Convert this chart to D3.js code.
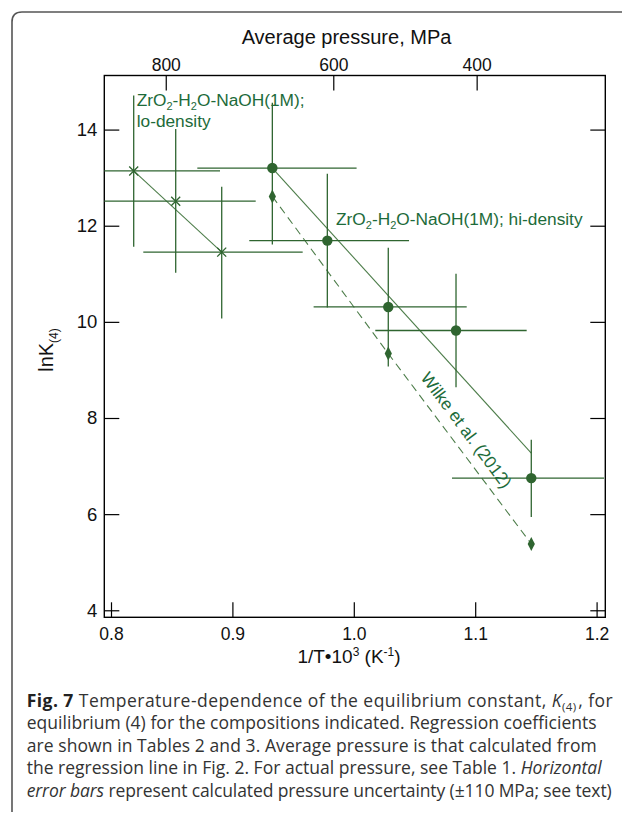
<!DOCTYPE html>
<html>
<head>
<meta charset="utf-8">
<script src="https://cdn.jsdelivr.net/npm/d3@7"></script>
<style>
  html, body { margin: 0; padding: 0; background: #fff; }
  svg { display: block; }
</style>
</head>
<body>
<svg id="chart" width="622" height="819"></svg>
<script>
// ---------------- data ----------------
const xTicks = [0.8, 0.9, 1.0, 1.1, 1.2];
const yTicks = [4, 6, 8, 10, 12, 14];
const topTickPos = [0.8451, 0.9831, 1.1012];
const topTickLabels = ["800", "600", "400"];

// lo-density (crosses)
const loX    = [0.8187, 0.8533, 0.8912];
const loY    = [13.14, 12.51, 11.45];
const loYLo  = [11.56, 11.02, 10.07];
const loYHi  = [14.71, 14.01, 12.81];
const loXLo  = [0.748, 0.787, 0.8266];
const loXHi  = [0.8898, 0.9192, 0.9579];
const loLineX = [0.8187, 0.8912];
const loLineY = [13.14, 11.45];

// hi-density (filled circles)
const hiX    = [0.9329, 0.9782, 1.0284, 1.0842, 1.1462];
const hiY    = [13.20, 11.69, 10.31, 9.82, 6.75];
const hiYLo  = [11.61, 10.30, 9.07, 8.64, 5.94];
const hiYHi  = [14.56, 13.08, 11.54, 11.00, 7.55];
const hiXLo  = [0.8711, 0.9139, 0.9669, 1.0177, 1.0809];
const hiXHi  = [1.0023, 1.0455, 1.0930, 1.1424, 1.2061];
const hiLineX = [0.9329, 1.1462];
const hiLineY = [13.20, 7.27];

// Wilke et al. (2012) (diamonds, dashed)
const wilkeX = [0.9329, 1.0284, 1.1462];
const wilkeY = [12.61, 9.34, 5.38];

// ---------------- drawing ----------------
const svg = d3.select("#chart");
const green = "#2f6530";
const lineGreen = "#4d7d4a";
const textGreen = "#1d6b3a";
const chartFont = "'Liberation Sans', Arial, Helvetica, sans-serif";

// outer figure border (top + left, rounded corner)
svg.append("path")
  .attr("d", "M12,812 L12,22 Q12,12 22,12 L622,12")
  .attr("fill", "none").attr("stroke", "#555").attr("stroke-width", 1.6);

const x = d3.scaleLinear().domain([0.79448, 1.20717]).range([104.3, 605.3]);
const y = d3.scaleLinear().domain([3.854, 15.125]).range([617.3, 75.5]);
const L = x.range()[0], R = x.range()[1], T = y.range()[1], B = y.range()[0];

svg.append("defs").append("clipPath").attr("id", "plotclip")
  .append("rect").attr("x", L).attr("y", T).attr("width", R - L).attr("height", B - T);

function styleAxis(g, fs) {
  g.select(".domain").remove();
  g.selectAll(".tick line").attr("stroke", "#000").attr("stroke-width", 1.2);
  g.selectAll(".tick text").attr("fill", "#111").style("font-family", chartFont).style("font-size", fs + "px");
}

// bottom axis
svg.append("g").attr("transform", `translate(0,${B})`)
  .call(d3.axisBottom(x).tickValues(xTicks).tickFormat(d3.format(".1f"))
        .tickSizeInner(-15).tickSizeOuter(0).tickPadding(10))
  .call(g => styleAxis(g, 17.5));

// left axis
svg.append("g").attr("transform", `translate(${L},0)`)
  .call(d3.axisLeft(y).tickValues(yTicks).tickFormat(d3.format("d"))
        .tickSizeInner(-15).tickSizeOuter(0).tickPadding(7))
  .call(g => styleAxis(g, 18.5));

// right axis (ticks only)
svg.append("g").attr("transform", `translate(${R},0)`)
  .call(d3.axisRight(y).tickValues(yTicks).tickFormat("")
        .tickSizeInner(-15).tickSizeOuter(0))
  .call(g => styleAxis(g, 17));

// top axis (average pressure)
svg.append("g").attr("transform", `translate(0,${T})`)
  .call(d3.axisTop(x).tickValues(topTickPos).tickFormat((d, i) => topTickLabels[i])
        .tickSizeInner(-15).tickSizeOuter(0).tickPadding(4.5))
  .call(g => styleAxis(g, 17.5));

// frame
svg.append("rect").attr("x", L).attr("y", T).attr("width", R - L).attr("height", B - T)
  .attr("fill", "none").attr("stroke", "#000").attr("stroke-width", 1.4);

// axis titles
svg.append("text").attr("x", 346.5).attr("y", 43.5).attr("text-anchor", "middle")
  .style("font-family", chartFont).style("font-size", "20px").attr("fill", "#111")
  .text("Average pressure, MPa");

const xl = svg.append("text").attr("x", 349).attr("y", 663).attr("text-anchor", "middle")
  .style("font-family", chartFont).style("font-size", "19px").attr("fill", "#111");
xl.append("tspan").text("1/T\u202210");
xl.append("tspan").attr("dy", -7).style("font-size", "12px").text("3");
xl.append("tspan").attr("dy", 7).text(" (K");
xl.append("tspan").attr("dy", -7).style("font-size", "12px").text("-1");
xl.append("tspan").attr("dy", 7).text(")");

const yl = svg.append("text").attr("transform", "translate(53,350) rotate(-90)")
  .attr("text-anchor", "middle")
  .style("font-family", chartFont).style("font-size", "20px").attr("fill", "#111");
yl.append("tspan").text("lnK");
yl.append("tspan").attr("dy", 5).style("font-size", "12px").text("(4)");

// data layer
const plot = svg.append("g").attr("clip-path", "url(#plotclip)");

// regression lines
const lineGen = d3.line().x(d => x(d[0])).y(d => y(d[1]));
plot.append("path").datum(d3.zip(loLineX, loLineY)).attr("d", lineGen)
  .attr("fill", "none").attr("stroke", lineGreen).attr("stroke-width", 1.1);
plot.append("path").datum(d3.zip(hiLineX, hiLineY)).attr("d", lineGen)
  .attr("fill", "none").attr("stroke", lineGreen).attr("stroke-width", 1.1);
plot.append("path").datum(d3.zip(wilkeX, wilkeY)).attr("d", lineGen)
  .attr("fill", "none").attr("stroke", lineGreen).attr("stroke-width", 1.1)
  .attr("stroke-dasharray", "8,5");

// error bars
function errorBars(xs, ys, xlo, xhi, ylo, yhi) {
  const g = plot.append("g").attr("stroke", green).attr("stroke-width", 1.3);
  xs.forEach((xv, i) => {
    g.append("line").attr("x1", x(xlo[i])).attr("x2", x(xhi[i])).attr("y1", y(ys[i])).attr("y2", y(ys[i]));
    g.append("line").attr("x1", x(xv)).attr("x2", x(xv)).attr("y1", y(ylo[i])).attr("y2", y(yhi[i]));
  });
}
errorBars(loX, loY, loXLo, loXHi, loYLo, loYHi);
errorBars(hiX, hiY, hiXLo, hiXHi, hiYLo, hiYHi);

// markers
plot.append("g").selectAll("path").data(d3.zip(loX, loY)).join("path")
  .attr("transform", d => `translate(${x(d[0])},${y(d[1])})`)
  .attr("d", "M-4.5,-4.5L4.5,4.5M-4.5,4.5L4.5,-4.5")
  .attr("stroke", green).attr("stroke-width", 1.3).attr("fill", "none");

plot.append("g").selectAll("circle").data(d3.zip(hiX, hiY)).join("circle")
  .attr("cx", d => x(d[0])).attr("cy", d => y(d[1])).attr("r", 5.2)
  .attr("fill", green);

plot.append("g").selectAll("path").data(d3.zip(wilkeX, wilkeY)).join("path")
  .attr("transform", d => `translate(${x(d[0])},${y(d[1])})`)
  .attr("d", "M0,-7L3.6,0L0,7L-3.6,0Z")
  .attr("fill", green);

// labels
function chemLabel(xp, yp, parts) {
  const t = svg.append("text").attr("x", xp).attr("y", yp)
    .style("font-family", chartFont).style("font-size", "17.3px").attr("fill", textGreen);
  parts.forEach(p => {
    if (p.sub) t.append("tspan").attr("dy", 4).style("font-size", "11px").text(p.t);
    else t.append("tspan").attr("dy", p.after ? -4 : 0).text(p.t);
  });
  return t;
}
const chemParts = (suffix) => [
  { t: "ZrO" }, { t: "2", sub: true }, { t: "-H", after: true }, { t: "2", sub: true },
  { t: "O-NaOH(1M);" + suffix, after: true }
];
chemLabel(136.7, 106, chemParts(""));
svg.append("text").attr("x", 136.7).attr("y", 126.5)
  .style("font-family", chartFont).style("font-size", "17.3px").attr("fill", textGreen)
  .text("lo-density");
chemLabel(336, 225, chemParts(" hi-density"));

// Wilke label along the dashed line
{
  const x0 = x(wilkeX[0]), y0 = y(wilkeY[0]);
  const x1 = x(wilkeX[2]), y1 = y(wilkeY[2]);
  const ang = Math.atan2(y1 - y0, x1 - x0);
  const t = 0.70;
  const px = x0 + (x1 - x0) * t, py = y0 + (y1 - y0) * t;
  const nx = Math.sin(ang), ny = -Math.cos(ang);
  const off = 10;
  svg.append("text")
    .attr("transform", `translate(${px + nx * off},${py + ny * off}) rotate(${ang * 180 / Math.PI})`)
    .attr("text-anchor", "middle")
    .style("font-family", chartFont).style("font-size", "17.3px").attr("fill", textGreen)
    .text("Wilke et al. (2012)");
}

// caption
const capFont = "'Open Sans', 'Noto Sans', sans-serif";
const capWidths = [586, 570, 570, 575, 585];
const capLines = [
  [{ t: "Fig. 7", b: true }, { t: " Temperature-dependence of the equilibrium constant, " }, { t: "K", i: true }, { t: "(4)", sub: true }, { t: ", for", up: true }],
  [{ t: "equilibrium (4) for the compositions indicated. Regression coefficients" }],
  [{ t: "are shown in Tables 2 and 3. Average pressure is that calculated from" }],
  [{ t: "the regression line in Fig. 2. For actual pressure, see Table 1. " }, { t: "Horizontal", i: true }],
  [{ t: "error bars", i: true }, { t: " represent calculated pressure uncertainty (\u00b1110 MPa; see text)" }]
];
capLines.forEach((parts, li) => {
  const t = svg.append("text").attr("x", 26.7).attr("y", 706.5 + li * 22.6)
    .attr("textLength", capWidths[li]).attr("lengthAdjust", "spacing")
    .style("font-family", capFont).style("font-size", "17.5px").attr("fill", "#333");
  parts.forEach(p => {
    const s = t.append("tspan").text(p.t);
    if (p.b) s.style("font-weight", "bold").attr("fill", "#222");
    if (p.i) s.style("font-style", "italic");
    if (p.sub) s.attr("dy", 4).style("font-size", "11.5px");
    if (p.up) s.attr("dy", -4).attr("dx", 1.5);
  });
});
</script>
</body>
</html>
